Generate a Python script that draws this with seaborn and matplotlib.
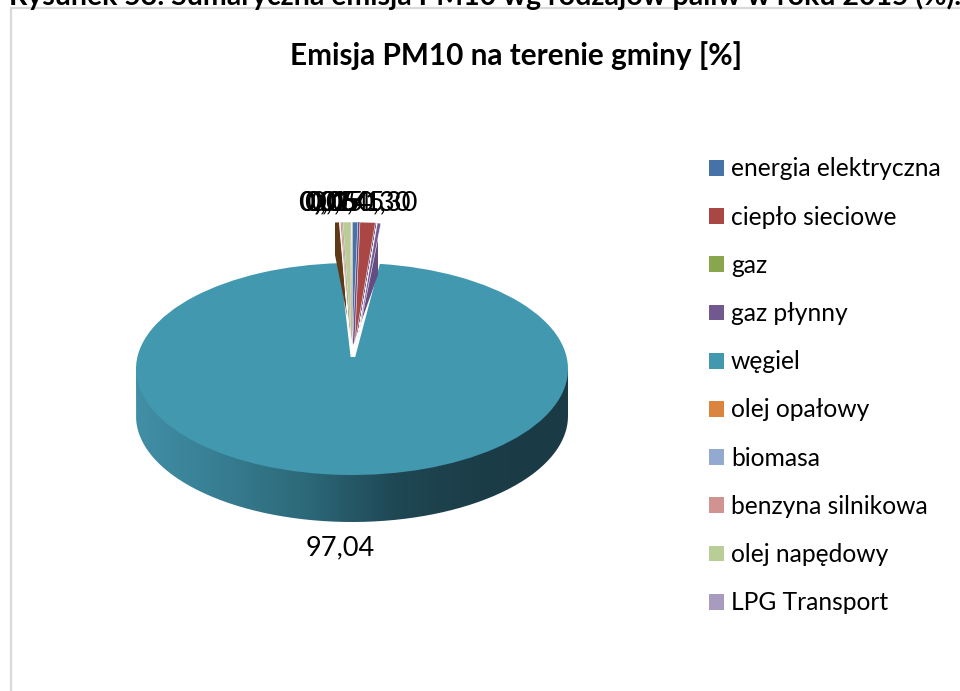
import numpy as np
import matplotlib
matplotlib.use("Agg")
import matplotlib.pyplot as plt
from matplotlib.patches import Patch, PathPatch
from matplotlib.path import Path
import seaborn as sns

# ---- data ----
fuels = ["energia elektryczna", "ciepło sieciowe", "gaz", "gaz płynny", "węgiel",
         "olej opałowy", "biomasa", "benzyna silnikowa", "olej napędowy", "LPG Transport"]
shares = [0.45, 1.30, 0.01, 0.30, 97.04, 0.05, 0.01, 0.15, 0.64, 0.05]
fuel_colors = ["#4572a7", "#aa4643", "#89a54e", "#71588f", "#4198af",
               "#db843d", "#93a9cf", "#d19392", "#b9cd96", "#a99bbd"]
side_shades = ["#418fa6", "#377d91", "#2c6878", "#1f4754", "#1b3d48", "#1a3a45"]
side_face_spans = [3.6, 94.35, 2.05]
side_face_colors = ["#654c83", "none", "#5f3a17"]
title = "Emisja PM10 na terenie gminy [%]"
caption = "Rysunek 53. Sumaryczna emisja PM10 wg rodzajów paliw w roku 2015 (%)."
coal = fuels.index("węgiel")

W, H = 960, 691
sns.set_theme(style="white")
plt.rcParams["font.family"] = ["Lato", "DejaVu Sans"]
fig = plt.figure(figsize=(W / 100, H / 100), dpi=100, facecolor="white")


def pixel_axes(x0, y0, x1, y1, z):
    ax = fig.add_axes([x0 / W, 1 - y1 / H, (x1 - x0) / W, (y1 - y0) / H], zorder=z)
    ax.patch.set_alpha(0)
    ax.axis("off")
    return ax


def pie_window(ax, cx, cy, rx, ry, x0, y0, x1, y1):
    """Map the unit pie centred on (cx, cy) with radii (rx, ry) onto the pixel box."""
    ax.set_aspect("auto")
    ax.set_xlim((x0 - cx) / rx, (x1 - cx) / rx)
    ax.set_ylim((cy - y1) / ry, (cy - y0) / ry)


CX, CY, RX, RY, DEPTH = 352, 369, 216, 106, 47

# overlay in pixel coordinates: frame, caption, title, value labels
page = pixel_axes(0, 0, W, H, 0)
page.set_xlim(0, W)
page.set_ylim(H, 0)
page.plot([11, 11, W], [H, 8, 8], color="#d9d9d9", lw=1.6, solid_joinstyle="miter", clip_on=False)
page.text(485, 5, caption, ha="center", va="baseline", fontsize=20.5,
          fontweight="bold", color="black", clip_on=True)
page.text(516, 56, title, ha="center", va="center", fontsize=21.4,
          fontweight="bold", color="black")

# side wall of the coal slice
wall = pixel_axes(CX - RX, CY, CX + RX, CY + RY + DEPTH, 1)
shade = sns.blend_palette(side_shades, n_colors=256)
img = wall.imshow(np.array(shade)[None, :, :], extent=[-1, 1, -(RY + DEPTH) / RY, 0],
                  aspect="auto")
t = np.linspace(np.pi, 2 * np.pi, 200)
outline = np.vstack([[-1, 0], np.c_[np.cos(t), np.sin(t) - DEPTH / RY], [1, 0], [-1, 0]])
clip = PathPatch(Path(outline), transform=wall.transData, fc="none", ec="none")
wall.add_patch(clip)
img.set_clip_path(clip)
wall.set_xlim(-1, 1)
wall.set_ylim(-(RY + DEPTH) / RY, 0)

# top face of the coal slice
top = pixel_axes(CX - RX, CY - RY, CX + RX, CY + RY, 2)
wedges, _ = top.pie(shares, colors=fuel_colors, startangle=90, counterclock=False,
                    wedgeprops=dict(linewidth=0))
for i, w in enumerate(wedges):
    w.set_visible(i == coal)
pie_window(top, CX, CY, RX, RY, CX - RX, CY - RY, CX + RX, CY + RY)

# the tip of the coal slice reaches further up than the pie centre
tip_dy = 12
tip = pixel_axes(CX - 40, CY - tip_dy, CX + 40, CY + 4, 2.1)
t_wedges, _ = tip.pie(shares, colors=fuel_colors, startangle=90, counterclock=False,
                      wedgeprops=dict(linewidth=0, clip_on=True))
for i, w in enumerate(t_wedges):
    w.set_visible(i == coal)
pie_window(tip, CX, CY - tip_dy, RX, RY, CX - 40, CY - tip_dy, CX + 40, CY + 4)

# side faces of the pulled-out group
SRX, SRY, PULL = 190, 123, 0.195
faces = pixel_axes(335, 222, 378, 346, 2.5)
f_wedges, _ = faces.pie(side_face_spans, colors=side_face_colors, startangle=90,
                        counterclock=False, wedgeprops=dict(linewidth=0, clip_on=True))
f_wedges[1].set_visible(False)
pie_window(faces, CX + 1, 345, SRX, SRY, 335, 222, 378, 346)

# the small slices pulled out of the pie
lim = 1 + PULL + 0.02
small = pixel_axes(CX - SRX * lim, CY - SRY * lim, CX + SRX * lim, CY + SRY * lim, 3)
s_wedges, _ = small.pie(shares, colors=fuel_colors, startangle=90, counterclock=False,
                        explode=[PULL] * len(shares),
                        wedgeprops=dict(edgecolor="white", linewidth=0.4))
s_wedges[coal].set_visible(False)
pie_window(small, CX, CY, SRX, SRY, CX - SRX * lim, CY - SRY * lim, CX + SRX * lim, CY + SRY * lim)

# value labels
fmt = lambda v: f"{v:.2f}".replace(".", ",")
label_x = [358, 391, 325, 384, 340, 333, 326, 337, 345, 331]
for i, (v, x) in enumerate(zip(shares, label_x)):
    y = 548 if i == coal else 203
    page.text(x, y, fmt(v), ha="center", va="center", fontsize=19.5, color="black")

# legend
handles = [Patch(facecolor=c, edgecolor="none", label=n) for n, c in zip(fuels, fuel_colors)]
page.legend(handles=handles, loc="upper left", bbox_to_anchor=(709 / W, 1 - 157.5 / H),
            bbox_transform=fig.transFigure, frameon=False, fontsize=17.7,
            handlelength=0.61, handleheight=0.61, handletextpad=0.28,
            labelspacing=1.025, borderpad=0, borderaxespad=0, labelcolor="black")

fig.savefig("out.png", dpi=100)
